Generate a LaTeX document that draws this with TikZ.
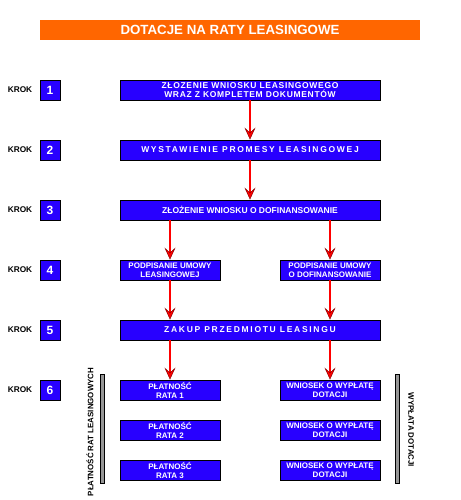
\documentclass[tikz,border=0pt]{standalone}
\usepackage{fontspec}
\setmainfont{Liberation Sans}
\newfontfamily\widefont[LetterSpace=20]{Liberation Sans}
\newfontfamily\semifont[LetterSpace=8]{Liberation Sans}
\usetikzlibrary{arrows.meta}

\definecolor{boxblue}{RGB}{40,0,255}
\definecolor{titleorange}{RGB}{255,102,0}
\definecolor{bargray}{RGB}{150,150,150}

\tikzset{
  stepbox/.style={draw=black, line width=0.8pt, fill=boxblue, text=white,
    font=\bfseries\fontsize{8.5}{9}\selectfont, align=center, inner sep=0pt,
    minimum height=20pt},
  wide/.style={stepbox, minimum width=260pt},
  half/.style={stepbox, minimum width=100pt, font=\bfseries\fontsize{8}{9}\selectfont},
  numbox/.style={stepbox, minimum width=20pt, font=\bfseries\fontsize{12}{12}\selectfont},
  kroklabel/.style={font=\bfseries\fontsize{8.3}{8.3}\selectfont},
  sidelabel/.style={font=\bfseries\fontsize{7.9}{7.9}\selectfont},
  flow/.style={draw=red, line width=1.1pt,
    -{Stealth[length=12pt, width=11pt, inset=5pt, color=red!55!black, fill=red, line width=0.5pt]}}
}

\begin{document}
\begin{tikzpicture}[x=1pt, y=-1pt]
    \useasboundingbox (0,0) rectangle (460,500);

    % title
    \node[fill=titleorange, text=white, minimum width=380pt, minimum height=20pt,
      inner sep=0pt, font=\bfseries\fontsize{13.3}{13.3}\selectfont] (title) at (230,30)
      {DOTACJE NA RATY LEASINGOWE};

    % steps on the left
    \foreach \k/\y in {1/90, 2/150, 3/210, 4/270, 5/330, 6/390} {
        \node[kroklabel] (krok\k) at (20,\y) {KROK};
        \node[numbox] (num\k) at (50,\y) {\k};
    }

    % main boxes
    \node[wide, font=\bfseries\semifont\fontsize{8.5}{9}\selectfont] (b1) at (250,90) {Z\L OZENIE WNIOSKU LEASINGOWEGO\\WRAZ Z KOMPLETEM DOKUMENTÓW};
    \node[wide, font=\bfseries\widefont\fontsize{8.5}{9}\selectfont] (b2) at (250,150) {WYSTAWIENIE PROMESY LEASINGOWEJ};
    \node[wide] (b3) at (250,210) {ZŁOŻENIE WNIOSKU O DOFINANSOWANIE};
    \node[half] (l4) at (170,270) {PODPISANIE UMOWY\\LEASINGOWEJ};
    \node[half] (r4) at (330,270) {PODPISANIE UMOWY\\O DOFINANSOWANIE};
    \node[wide, font=\bfseries\widefont\fontsize{8.5}{9}\selectfont] (b5) at (250,330) {ZAKUP PRZEDMIOTU LEASINGU};

    % instalments and payout requests
    \foreach \i/\y in {1/390, 2/430, 3/470} {
        \node[half] (p\i) at (170,\y) {PŁATNOŚĆ\\RATA \i};
        \node[half] (w\i) at (330,\y) {WNIOSEK O WYPŁATĘ\\DOTACJI};
    }

    % side bars
    \draw[fill=bargray, line width=0.6pt] (100,374) rectangle (104,483);
    \draw[fill=bargray, line width=0.6pt] (395,374) rectangle (399,483);
    \node[sidelabel, rotate=90] (leftlab) at (90,432) {PŁATNOŚĆ RAT LEASINGOWYCH};
    \node[sidelabel, rotate=-90] (rightlab) at (411,430) {WYPŁATA DOTACJI};

    % arrows
    \draw[flow] (b1) -- (b2);
    \draw[flow] (b2) -- (b3);
    \draw[flow] (b3.south -| l4.north) -- (l4.north);
    \draw[flow] (b3.south -| r4.north) -- (r4.north);
    \draw[flow] (l4.south) -- (b5.north -| l4.south);
    \draw[flow] (r4.south) -- (b5.north -| r4.south);
    \draw[flow] (b5.south -| p1.north) -- (p1.north);
    \draw[flow] (b5.south -| w1.north) -- (w1.north);
\end{tikzpicture}
\end{document}
